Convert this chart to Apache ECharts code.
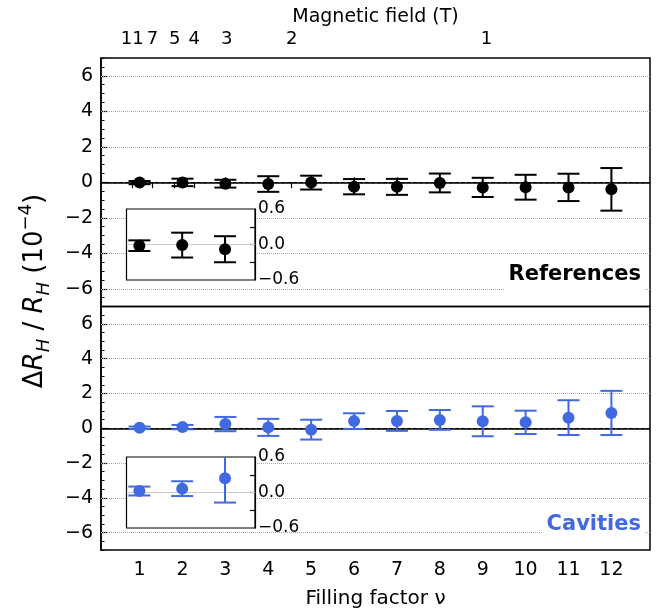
<!DOCTYPE html>
<html>
<head>
<meta charset="utf-8">
<script src="https://cdn.jsdelivr.net/npm/echarts@6/dist/echarts.min.js"></script>
<style>
html,body{margin:0;padding:0;background:#fff}
#chart{width:659px;height:610px}
</style>
</head>
<body>
<div id="chart"></div>
<script>
// filling factors and measured deviations (units of 1e-4)
var nu = [1, 2, 3, 4, 5, 6, 7, 8, 9, 10, 11, 12];
var refVal = [-0.02, -0.01, -0.08, -0.10, -0.02, -0.25, -0.26, -0.04, -0.29, -0.28, -0.29, -0.40];
var refErr = [0.09, 0.21, 0.22, 0.44, 0.39, 0.43, 0.45, 0.53, 0.54, 0.70, 0.77, 1.20];
var cavVal = [0.025, 0.065, 0.24, 0.05, -0.08, 0.41, 0.42, 0.48, 0.40, 0.34, 0.61, 0.88];
var cavErr = [0.075, 0.125, 0.41, 0.49, 0.57, 0.45, 0.57, 0.57, 0.86, 0.67, 1.00, 1.27];
var fieldTicks = [11, 7, 5, 4, 3, 2, 1];   // magnetic field labels (T)
var fieldConst = 9.09;                      // B * nu
var yTicks = [-6, -4, -2, 0, 2, 4, 6];
var insetLabels = [-0.6, 0, 0.6];
var insetTicks = [-0.3, 0, 0.3];

var FONT = 'DejaVu Sans';
var BLUE = '#4169e1';

function minus(v, d){
  var s = d ? Math.abs(v).toFixed(d) : String(Math.abs(v));
  return v < 0 ? '\u2212' + s : s;
}

var minorY = [];
for (var v = -7; v <= 7; v += 0.5){
  if (yTicks.indexOf(v) < 0) minorY.push(v);
}

function errData(val, err, n){
  var d = [];
  for (var i = 0; i < n; i++) d.push([nu[i], val[i] - err[i], val[i] + err[i]]);
  return d;
}
function ptData(val, n){
  var d = [];
  for (var i = 0; i < n; i++) d.push([nu[i], val[i]]);
  return d;
}

function renderErr(color){
  return function(params, api){
    var x = api.value(0);
    var top = api.coord([x, api.value(2)]);
    var bot = api.coord([x, api.value(1)]);
    var w = 11;
    var st = {stroke: color, lineWidth: 2};
    return {
      type: 'group',
      children: [
        {type: 'line', shape: {x1: top[0], y1: top[1], x2: bot[0], y2: bot[1]}, style: st},
        {type: 'line', shape: {x1: top[0] - w, y1: top[1], x2: top[0] + w, y2: top[1]}, style: st},
        {type: 'line', shape: {x1: bot[0] - w, y1: bot[1], x2: bot[0] + w, y2: bot[1]}, style: st}
      ]
    };
  };
}

function gridLines(){
  var d = [];
  for (var i = 0; i < yTicks.length; i++){
    if (yTicks[i] === 0){
      d.push({yAxis: 0, lineStyle: {color: '#000', width: 1, type: [4, 2]}});
    } else {
      d.push({yAxis: yTicks[i], lineStyle: {color: '#a8a8a8', width: 1, type: [1, 1]}});
    }
  }
  return d;
}

function mainX(grid, withLabels){
  return {
    type: 'value', gridIndex: grid, min: 0.1, max: 12.9, position: 'bottom',
    axisLine: {show: true, lineStyle: {color: '#000', width: 1.5}},
    axisTick: {show: true, inside: true, length: 5, customValues: nu, lineStyle: {color: '#000', width: 1.2}},
    axisLabel: {show: withLabels, customValues: nu, color: '#000', fontFamily: FONT, fontSize: 19, margin: 11},
    splitLine: {show: false},
    name: withLabels ? 'Filling factor \u03bd' : '',
    nameLocation: 'middle', nameGap: 39,
    nameTextStyle: {color: '#000', fontFamily: FONT, fontSize: 20}
  };
}

function mainY(grid){
  return {
    type: 'value', gridIndex: grid, min: -7, max: 7, position: 'left',
    axisLine: {show: true, lineStyle: {color: '#000', width: 1.5}},
    axisTick: {show: true, inside: true, length: 6, customValues: yTicks, lineStyle: {color: '#000', width: 1.2}},
    axisLabel: {customValues: yTicks, color: '#000', fontFamily: FONT, fontSize: 19, margin: 8,
      formatter: function(v){ return minus(v); }},
    splitLine: {show: false}
  };
}

function minorYAxis(grid){
  return {
    type: 'value', gridIndex: grid, min: -7, max: 7, position: 'left', offset: 0,
    axisLine: {show: false},
    axisTick: {show: true, inside: true, length: 3.5, customValues: minorY, lineStyle: {color: '#000', width: 1}},
    axisLabel: {show: false},
    splitLine: {show: false}
  };
}

function insetX(grid){
  return {
    type: 'value', gridIndex: grid, min: 0.7, max: 3.7, z: 11,
    axisLine: {show: true, lineStyle: {color: '#000', width: 1.2}},
    axisTick: {show: true, inside: true, length: 5, customValues: [1, 2, 3], lineStyle: {color: '#000', width: 1.2}},
    axisLabel: {show: false},
    splitLine: {show: false}
  };
}

function insetY(grid){
  return {
    type: 'value', gridIndex: grid, min: -0.6, max: 0.6, position: 'right', z: 11,
    axisLine: {show: true, lineStyle: {color: '#000', width: 1.2}},
    axisTick: {show: true, inside: true, length: 5, customValues: insetTicks, lineStyle: {color: '#000', width: 1.2}},
    axisLabel: {customValues: insetLabels, color: '#000', fontFamily: FONT, fontSize: 17, margin: 3,
      formatter: function(v){ return minus(v, 1); }},
    splitLine: {show: false}
  };
}

var chart = echarts.init(document.getElementById('chart'));
var option = {
  animation: false,
  backgroundColor: '#fff',
  title: [
    {text: 'References', right: 14, top: 261, padding: [3, 4, 6, 4], backgroundColor: '#fff', z: 20,
      textStyle: {fontFamily: FONT, fontWeight: 'bold', fontSize: 21, color: '#000'}},
    {text: 'Cavities', right: 14, top: 511, padding: [3, 4, 6, 4], backgroundColor: '#fff', z: 20,
      textStyle: {fontFamily: FONT, fontWeight: 'bold', fontSize: 21, color: BLUE}}
  ],
  grid: [
    {left: 101, top: 58, width: 549, height: 248.5, show: true, borderColor: '#000', borderWidth: 1.5, backgroundColor: 'transparent'},
    {left: 101, top: 306.5, width: 549, height: 248.5, show: true, borderColor: '#000', borderWidth: 1.5, backgroundColor: 'transparent'},
    {left: 126.5, top: 209, width: 128.5, height: 71, show: true, z: 10, borderColor: '#000', borderWidth: 1.2, backgroundColor: '#fff'},
    {left: 126.5, top: 457, width: 128.5, height: 71, show: true, z: 10, borderColor: '#000', borderWidth: 1.2, backgroundColor: '#fff'}
  ],
  xAxis: [
    mainX(0, false),
    {
      type: 'value', gridIndex: 0, min: 0.1, max: 12.9, position: 'top',
      axisLine: {show: false},
      axisTick: {show: true, inside: true, length: 6, customValues: fieldTicks.map(function(b){ return fieldConst / b; }),
        lineStyle: {color: '#000', width: 1.2}},
      axisLabel: {customValues: fieldTicks.map(function(b){ return fieldConst / b; }), color: '#000', fontFamily: FONT, fontSize: 18, margin: 10,
        formatter: function(v){ return String(Math.round(fieldConst / v)); }},
      splitLine: {show: false},
      name: 'Magnetic field (T)', nameLocation: 'middle', nameGap: 31,
      nameTextStyle: {color: '#000', fontFamily: FONT, fontSize: 19}
    },
    mainX(1, true),
    insetX(2),
    insetX(3)
  ],
  yAxis: [
    mainY(0), minorYAxis(0), mainY(1), minorYAxis(1), insetY(2), insetY(3)
  ],
  graphic: [
    {
      type: 'text', x: 35, y: 291, rotation: Math.PI / 2, z: 20,
      style: {
        text: '{a|\u0394}{i|R}{s|H}{a| / }{i|R}{s|H}{a| (10}{u|\u22124}{a|)}',
        align: 'center', verticalAlign: 'middle', fill: '#000',
        rich: {
          a: {fontFamily: FONT, fontSize: 26, lineHeight: 36, verticalAlign: 'middle', fill: '#000'},
          i: {fontFamily: FONT, fontSize: 26, fontStyle: 'italic', lineHeight: 36, verticalAlign: 'middle', fill: '#000'},
          s: {fontFamily: FONT, fontSize: 18, fontStyle: 'italic', lineHeight: 32, verticalAlign: 'bottom', fill: '#000'},
          u: {fontFamily: FONT, fontSize: 18, lineHeight: 34, verticalAlign: 'top', fill: '#000'}
        }
      }
    }
  ],
  series: [
    {
      type: 'custom', xAxisIndex: 0, yAxisIndex: 0, z: 3,
      renderItem: renderErr('#000'), encode: {x: 0, y: [1, 2]},
      data: errData(refVal, refErr, nu.length)
    },
    {
      type: 'scatter', xAxisIndex: 0, yAxisIndex: 0, z: 4,
      symbolSize: 12, itemStyle: {color: '#000', opacity: 1},
      data: ptData(refVal, nu.length),
      markLine: {silent: true, symbol: ['none', 'none'], label: {show: false}, z: 2, data: gridLines()}
    },
    {
      type: 'custom', xAxisIndex: 2, yAxisIndex: 2, z: 3,
      renderItem: renderErr(BLUE), encode: {x: 0, y: [1, 2]},
      data: errData(cavVal, cavErr, nu.length)
    },
    {
      type: 'scatter', xAxisIndex: 2, yAxisIndex: 2, z: 4,
      symbolSize: 12, itemStyle: {color: BLUE, opacity: 1},
      data: ptData(cavVal, nu.length),
      markLine: {silent: true, symbol: ['none', 'none'], label: {show: false}, z: 2, data: gridLines()}
    },
    {
      type: 'custom', xAxisIndex: 3, yAxisIndex: 4, z: 13, clip: true,
      renderItem: renderErr('#000'), encode: {x: 0, y: [1, 2]},
      data: errData(refVal, refErr, 3)
    },
    {
      type: 'scatter', xAxisIndex: 3, yAxisIndex: 4, z: 14,
      symbolSize: 12, itemStyle: {color: '#000', opacity: 1},
      data: ptData(refVal, 3),
      markLine: {silent: true, symbol: ['none', 'none'], label: {show: false}, z: 12,
        lineStyle: {color: '#cccccc', width: 1, type: 'solid'}, data: [{yAxis: 0}]}
    },
    {
      type: 'custom', xAxisIndex: 4, yAxisIndex: 5, z: 13, clip: true,
      renderItem: renderErr(BLUE), encode: {x: 0, y: [1, 2]},
      data: errData(cavVal, cavErr, 3)
    },
    {
      type: 'scatter', xAxisIndex: 4, yAxisIndex: 5, z: 14,
      symbolSize: 12, itemStyle: {color: BLUE, opacity: 1},
      data: ptData(cavVal, 3),
      markLine: {silent: true, symbol: ['none', 'none'], label: {show: false}, z: 12,
        lineStyle: {color: '#cccccc', width: 1, type: 'solid'}, data: [{yAxis: 0}]}
    }
  ]
};

chart.setOption(option);
</script>
</body>
</html>
